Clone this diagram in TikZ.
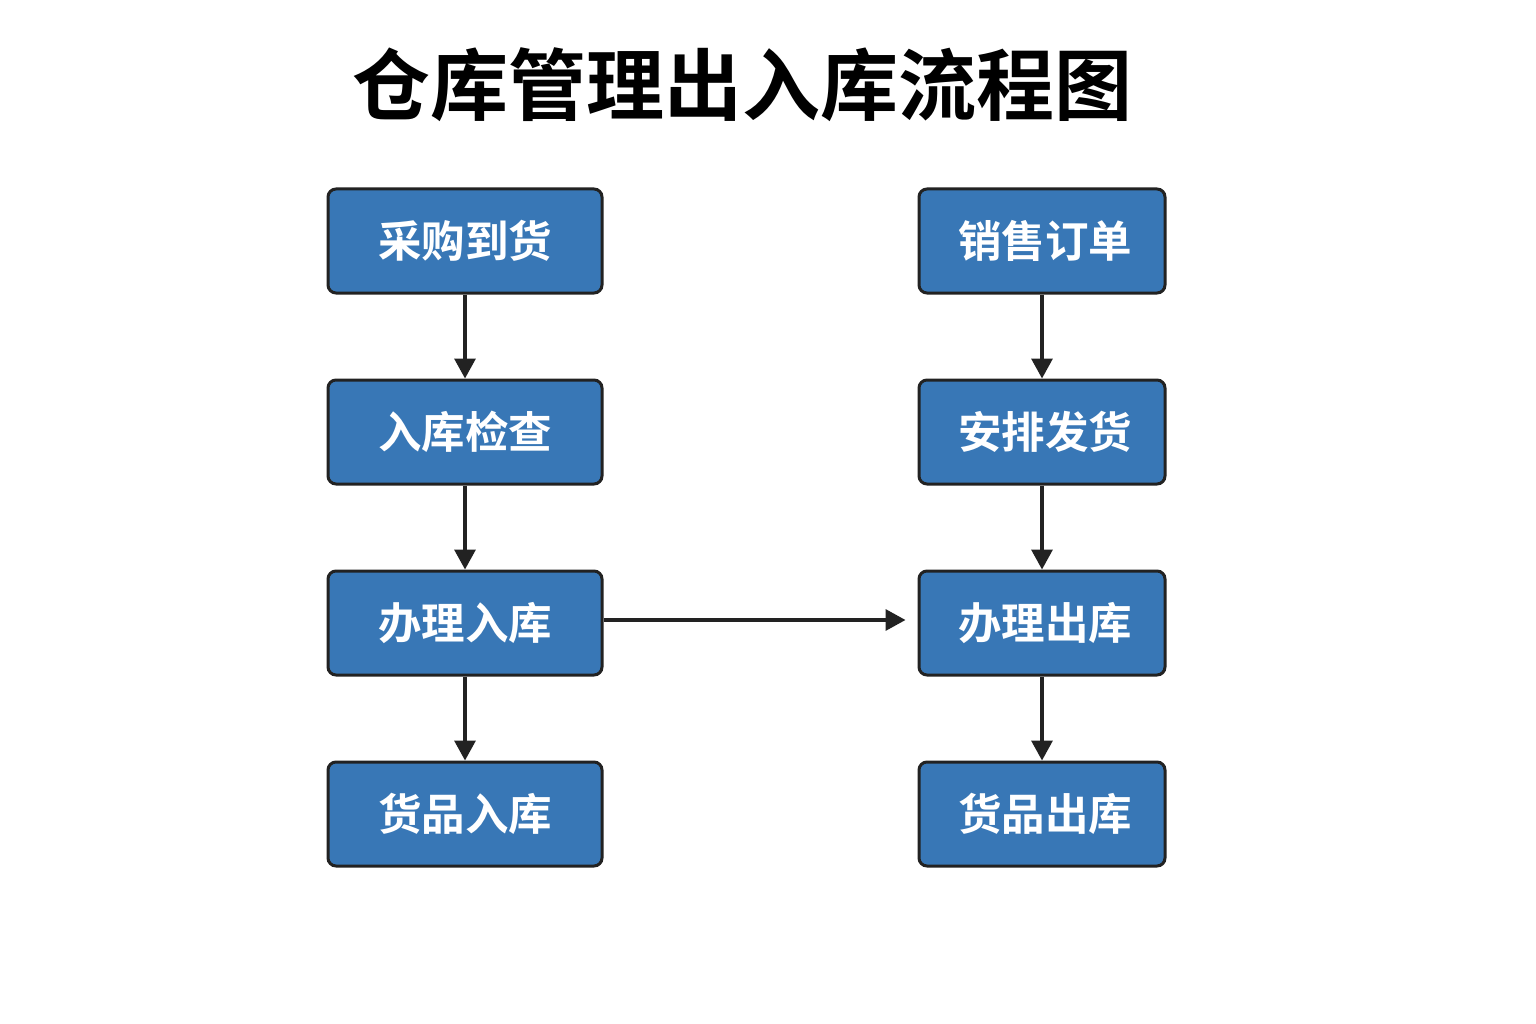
\documentclass[tikz,border=0pt]{standalone}
\usepackage{fontspec}
\newfontfamily\cjk{Noto Sans CJK SC}[BoldFont={Noto Sans CJK SC Bold}]
\usetikzlibrary{arrows.meta}
\definecolor{boxblue}{HTML}{3877B6}
\definecolor{dark}{HTML}{222222}
\begin{document}
\begin{tikzpicture}[x=1pt,y=-1pt,
  stepbox/.style={draw=dark, line width=3pt, fill=boxblue, rounded corners=8pt,
    text=white, font=\cjk\bfseries\fontsize{43.5}{43.5}\selectfont, inner sep=0pt},
  conn/.style={draw=dark, line width=3.4pt, -{Triangle[length=20pt,width=21pt]}}]
\useasboundingbox (0,0) rectangle (1536,1024);
\fill[white] (0,0) rectangle (1536,1024);
\node[font=\cjk\bfseries\fontsize{78}{78}\selectfont, text=black] (title) at (742,85) {仓库管理出入库流程图};
% left column
\node[stepbox, minimum width=274pt, minimum height=104pt] (a1) at (465,241) {采购到货};
\node[stepbox, minimum width=274pt, minimum height=104pt] (a2) at (465,432) {入库检查};
\node[stepbox, minimum width=274pt, minimum height=104pt] (a3) at (465,623) {办理入库};
\node[stepbox, minimum width=274pt, minimum height=104pt] (a4) at (465,814) {货品入库};
% right column
\node[stepbox, minimum width=246pt, minimum height=104pt] (b1) at (1042,241) {\hspace*{6pt}销售订单};
\node[stepbox, minimum width=246pt, minimum height=104pt] (b2) at (1042,432) {\hspace*{6pt}安排发货};
\node[stepbox, minimum width=246pt, minimum height=104pt] (b3) at (1042,623) {\hspace*{6pt}办理出库};
\node[stepbox, minimum width=246pt, minimum height=104pt] (b4) at (1042,814) {\hspace*{6pt}货品出库};
\draw[conn] (a1) -- (a2);
\draw[conn] (a2) -- (a3);
\draw[conn] (a3) -- (a4);
\draw[conn] (b1) -- (b2);
\draw[conn] (b2) -- (b3);
\draw[conn] (b3) -- (b4);
\draw[conn, shorten >=12pt] (a3.east |- 0,620) -- (b3.west |- 0,620);
\end{tikzpicture}
\end{document}
